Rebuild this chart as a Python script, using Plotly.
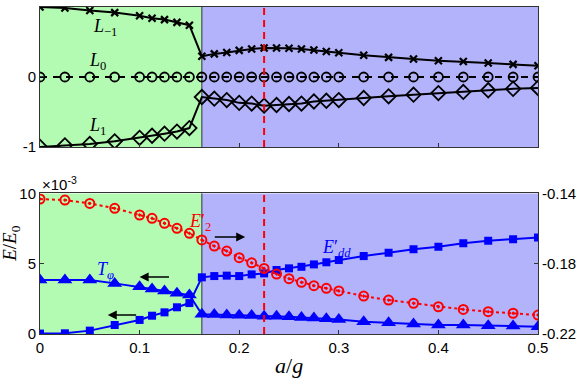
import plotly.graph_objects as go

# a/g sample points
ag = [0, 0.025, 0.05, 0.075, 0.1, 0.1125, 0.125, 0.1375, 0.15, 0.1625,
      0.175, 0.1875, 0.2, 0.2125, 0.225, 0.2375, 0.25, 0.2625, 0.275, 0.2875,
      0.3, 0.325, 0.35, 0.375, 0.4, 0.425, 0.45, 0.475, 0.5]

# top panel
L_m1 = [1.0, 0.986, 0.95, 0.92, 0.876, 0.84, 0.82, 0.78, 0.74, 0.295,
        0.33, 0.35, 0.38, 0.40, 0.414, 0.414, 0.41, 0.40, 0.385, 0.365,
        0.345, 0.31, 0.28, 0.257, 0.233, 0.22, 0.2, 0.18, 0.16]
L_0 = [0.0] * len(ag)
L_1 = [-1.0, -0.977, -0.957, -0.92, -0.87, -0.84, -0.81, -0.78, -0.73, -0.286,
       -0.31, -0.33, -0.37, -0.38, -0.41, -0.40, -0.386, -0.38, -0.35, -0.34,
       -0.33, -0.30, -0.277, -0.253, -0.23, -0.214, -0.19, -0.17, -0.157]

# bottom panel, left axis (x1e-3)
T_phi = [3.84, 3.84, 3.84, 3.6, 3.36, 3.2, 3.06, 2.89, 2.77, 1.4,
         1.38, 1.35, 1.33, 1.31, 1.27, 1.26, 1.23, 1.18, 1.14, 1.08,
         1.04, 0.87, 0.8, 0.71, 0.64, 0.64, 0.59, 0.57, 0.52]
E_dd = [0.03, 0.05, 0.24, 0.64, 1.0, 1.3, 1.54, 1.9, 2.2, 4.03,
        4.12, 4.15, 4.12, 4.24, 4.31, 4.55, 4.67, 4.78, 4.95, 5.1,
        5.26, 5.54, 5.78, 6.02, 6.2, 6.45, 6.63, 6.73, 6.87]
# bottom panel, right axis
E_2 = [-0.1432, -0.1438, -0.1457, -0.1485, -0.1523, -0.1542, -0.157, -0.1599, -0.1627, -0.1665,
       -0.170, -0.1728, -0.1766, -0.1795, -0.1827, -0.1859, -0.1885, -0.1906, -0.1925, -0.194,
       -0.1955, -0.1984, -0.2007, -0.2025, -0.2045, -0.206, -0.2073, -0.2082, -0.2092]

a_split = 0.1625
a_red = 0.225

GREEN = "rgb(179,250,179)"
BLUE = "rgb(179,179,252)"
SERIF = "Liberation Serif"
SANS = "Liberation Sans"

fig = go.Figure()

# top panel traces
fig.add_trace(go.Scatter(x=ag, y=L_m1, mode="lines+markers", xaxis="x", yaxis="y",
                         line=dict(color="black", width=2),
                         marker=dict(symbol="x-thin", size=7, line=dict(color="black", width=2.2))))
fig.add_trace(go.Scatter(x=ag, y=L_0, mode="lines+markers", xaxis="x", yaxis="y",
                         line=dict(color="black", width=2, dash="7px,6px"),
                         marker=dict(symbol="circle-open", size=9, color="black", line=dict(width=1.8))))
fig.add_trace(go.Scatter(x=ag, y=L_1, mode="lines+markers", xaxis="x", yaxis="y",
                         line=dict(color="black", width=2),
                         marker=dict(symbol="diamond-open", size=11, color="black", line=dict(width=1.8))))

# bottom panel traces
fig.add_trace(go.Scatter(x=ag, y=E_2, mode="lines+markers", xaxis="x2", yaxis="y3",
                         line=dict(color="red", width=2, dash="dot"),
                         marker=dict(symbol="circle-open-dot", size=9, color="red", line=dict(width=2))))
fig.add_trace(go.Scatter(x=ag, y=T_phi, mode="lines+markers", xaxis="x2", yaxis="y2",
                         line=dict(color="blue", width=2),
                         marker=dict(symbol="triangle-up", size=13, color="blue")))
fig.add_trace(go.Scatter(x=ag, y=E_dd, mode="lines+markers", xaxis="x2", yaxis="y2",
                         line=dict(color="blue", width=2),
                         marker=dict(symbol="square", size=8, color="blue")))

shapes = []
for xr, yr in [("x", "y domain"), ("x2", "y2 domain")]:
    shapes.append(dict(type="rect", xref=xr, yref=yr, x0=0, x1=a_split, y0=0, y1=1,
                       fillcolor=GREEN, line=dict(width=0), layer="below"))
    shapes.append(dict(type="rect", xref=xr, yref=yr, x0=a_split, x1=0.5, y0=0, y1=1,
                       fillcolor=BLUE, line=dict(width=0), layer="below"))
    shapes.append(dict(type="line", xref=xr, yref=yr, x0=a_split, x1=a_split, y0=0, y1=1,
                       line=dict(color="#333", width=1), layer="below"))
    shapes.append(dict(type="line", xref=xr, yref=yr, x0=a_red, x1=a_red, y0=0, y1=1,
                       line=dict(color="red", width=2, dash="7px,5px")))

ann = []
lab = dict(showarrow=False, font=dict(family=SERIF, size=18, color="black"))
ann.append(dict(x=0.065, y=0.70, xref="x", yref="y", text="<i>L</i><sub>−1</sub>", **lab))
ann.append(dict(x=0.058, y=0.22, xref="x", yref="y", text="<i>L</i><sub>0</sub>", **lab))
ann.append(dict(x=0.058, y=-0.71, xref="x", yref="y", text="<i>L</i><sub>1</sub>", **lab))
ann.append(dict(x=0.066, y=4.55, xref="x2", yref="y2", text="<i>T<sub>φ</sub></i>",
                showarrow=False, font=dict(family=SERIF, size=18, color="blue")))
ann.append(dict(x=0.161, y=7.96, xref="x2", yref="y2", text="<i>E</i>′<sub>2</sub>",
                showarrow=False, font=dict(family=SERIF, size=18, color="red")))
ann.append(dict(x=0.298, y=6.11, xref="x2", yref="y2", text="<i>E</i>′<sub><i>dd</i></sub>",
                showarrow=False, font=dict(family=SERIF, size=18, color="blue")))

arr = dict(xref="x2", yref="y2", axref="x2", ayref="y2", showarrow=True, text="",
           arrowhead=2, arrowsize=1.2, arrowwidth=1.5, arrowcolor="black")
ann.append(dict(x=0.206, y=6.9, ax=0.174, ay=6.9, **arr))
ann.append(dict(x=0.100, y=4.05, ax=0.131, ay=4.05, **arr))
ann.append(dict(x=0.068, y=1.35, ax=0.098, ay=1.35, **arr))

ann.append(dict(x=0.0, y=0.426, xref="paper", yref="paper", xanchor="left", yanchor="bottom",
                text="×10<sup>-3</sup>", showarrow=False,
                font=dict(family=SANS, size=15, color="black")))
ann.append(dict(x=-0.085, y=0.215, xref="paper", yref="paper", textangle=-90,
                text="<i>E</i>/<i>E</i><sub>0</sub>", showarrow=False,
                font=dict(family=SERIF, size=19, color="black")))
ann.append(dict(x=0.5, y=-0.052, xref="paper", yref="paper", yanchor="top",
                text="<i>a</i>/<i>g</i>", showarrow=False,
                font=dict(family=SERIF, size=22, color="black")))

axis_common = dict(showgrid=False, zeroline=False, showline=True, linecolor="#333", linewidth=1,
                   ticks="inside", ticklen=4, tickcolor="#333", automargin=False,
                   tickfont=dict(family=SANS, size=15, color="black"))

fig.update_layout(
    width=585, height=382,
    margin=dict(l=40, r=47, t=7, b=48),
    paper_bgcolor="white", plot_bgcolor="white",
    showlegend=False,
    shapes=shapes, annotations=ann,
    xaxis=dict(domain=[0, 1], anchor="y", range=[0, 0.5], showticklabels=False,
               tickvals=[0, 0.1, 0.2, 0.3, 0.4, 0.5], mirror=True, **axis_common),
    yaxis=dict(domain=[0.572, 1], anchor="x", range=[-1, 1], tickvals=[-1, 0, 1],
               ticktext=["-1", "0", "1"], mirror=True, **axis_common),
    xaxis2=dict(domain=[0, 1], anchor="y2", range=[0, 0.5], tickvals=[0, 0.1, 0.2, 0.3, 0.4, 0.5],
                ticktext=["0", "0.1", "0.2", "0.3", "0.4", "0.5"], mirror=True,
                **axis_common),
    yaxis2=dict(domain=[0, 0.430], anchor="x2", range=[0, 10], tickvals=[0, 5, 10],
                **axis_common),
    yaxis3=dict(overlaying="y2", anchor="x2", side="right", range=[-0.22, -0.14],
                tickvals=[-0.22, -0.18, -0.14], ticktext=["-0.22", "-0.18", "-0.14"],
                **axis_common),
)

# page body has a default 8px margin; drop it so the figure sits at the window corner
fig.write_html("out.html", config={"displayModeBar": False},
               post_script="document.body.style.margin='0';")
